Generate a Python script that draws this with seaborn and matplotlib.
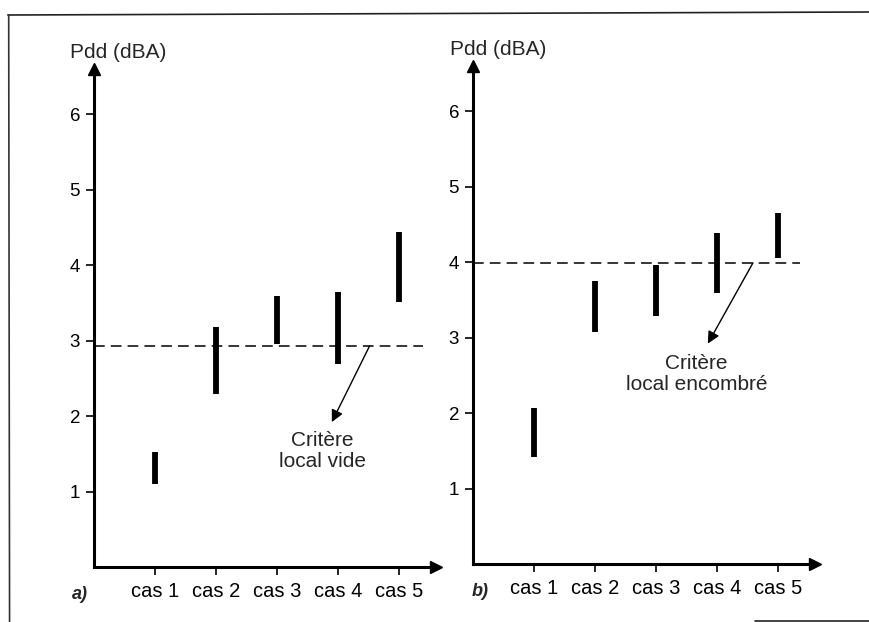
import numpy as np
import pandas as pd
import matplotlib
matplotlib.use("Agg")
import matplotlib.pyplot as plt
from matplotlib.lines import Line2D
import seaborn as sns

# ---- data ----
cases = ["cas 1", "cas 2", "cas 3", "cas 4", "cas 5"]
low_a = [1.10, 2.29, 2.95, 2.69, 3.51]
high_a = [1.52, 3.18, 3.59, 3.64, 4.44]
low_b = [1.42, 3.07, 3.28, 3.59, 4.05]
high_b = [2.07, 3.75, 3.96, 4.38, 4.65]
crit_a = 2.93
crit_b = 3.99
yticks = [1, 2, 3, 4, 5, 6]
ylabel = "Pdd (dBA)"
crit_label_a = "Critère\nlocal vide"
crit_label_b = "Critère\nlocal encombré"
panel_labels = ["a)", "b)"]

sns.set_theme(style="white")
plt.rcParams["font.family"] = ["Liberation Sans", "DejaVu Sans"]

fig = plt.figure(figsize=(8.7, 6.22), dpi=100)
ax_a = fig.add_axes([0.1080, 0.0884, 0.3926, 0.801])
ax_b = fig.add_axes([0.5437, 0.0932, 0.3926, 0.801])


def long_df(lo, hi):
    return pd.DataFrame({
        "case": cases + cases,
        "value": list(lo) + list(hi),
    })


def draw(ax, lo, hi, crit, crit_end, arrow_from, arrow_to, txt_xy, txt):
    df = long_df(lo, hi)
    sns.pointplot(data=df, x="case", y="value", order=cases, ax=ax,
                  estimator="mean", errorbar=lambda v: (v.min(), v.max()),
                  color="black", linestyle="none", marker="", markersize=0,
                  capsize=0, err_kws={"linewidth": 4.2, "solid_capstyle": "butt"})
    ax.set_xlim(-1, 4.6)
    ax.set_ylim(0, 6.6)
    ax.set_yticks(yticks)
    ax.set_yticklabels([str(t) for t in yticks], fontsize=13.5)
    ax.set_xticks(range(len(cases)))
    ax.set_xticklabels(cases, fontsize=14.5)
    ax.set_xlabel("")
    ax.set_ylabel("")
    for s in ["top", "right"]:
        ax.spines[s].set_visible(False)
    for s in ["left", "bottom"]:
        ax.spines[s].set_linewidth(2.2)
        ax.spines[s].set_color("black")
    ax.tick_params(axis="both", direction="out", length=6, width=1.2,
                   colors="black", left=True, bottom=True, pad=4)
    ax.tick_params(axis="x", pad=5)
    # arrow heads on axes
    ax.plot(0, 1, marker="^", ms=9, color="black", transform=ax.transAxes, clip_on=False)
    ax.plot(1, 0, marker=">", ms=9, color="black", transform=ax.transAxes, clip_on=False)
    # criterion dashed line
    ax.plot([-1, crit_end], [crit, crit], color="black", lw=1.1,
            linestyle=(0, (7, 4)), clip_on=False)
    ax.annotate("", xy=arrow_to, xytext=arrow_from,
                arrowprops=dict(arrowstyle="-|>", color="black", lw=1.0,
                                mutation_scale=18, shrinkA=0, shrinkB=0))
    ax.text(txt_xy[0], txt_xy[1], txt, ha="center", va="center",
            fontsize=15, linespacing=1.1)


draw(ax_a, low_a, high_a, crit_a, 4.39, (3.52, crit_a), (2.9, 1.92), (2.75, 1.54), crit_label_a)
draw(ax_b, low_b, high_b, crit_b, 4.36, (3.59, crit_b), (2.85, 2.92), (2.66, 2.52), crit_label_b)

fig.text(0.0805, 0.916, ylabel, fontsize=15, va="center", ha="left")
fig.text(0.517, 0.920, ylabel, fontsize=15, va="center", ha="left")
fig.text(0.083, 0.037, panel_labels[0], fontsize=13, fontweight="bold", fontstyle="italic")
fig.text(0.5425, 0.042, panel_labels[1], fontsize=13, fontweight="bold", fontstyle="italic")

# scanned frame lines
fig.add_artist(Line2D([0.009, 1.0], [1 - 15 / 622, 1 - 12 / 622], color="#222222", lw=1.2,
                      transform=fig.transFigure))
fig.add_artist(Line2D([0.010, 0.011], [1 - 15 / 622, 0.0], color="#333333", lw=1.2,
                      transform=fig.transFigure))
fig.add_artist(Line2D([755 / 870, 1.0], [1.5 / 622, 1.5 / 622], color="#222222", lw=1.2,
                      transform=fig.transFigure))

fig.savefig("out.png", dpi=100)
